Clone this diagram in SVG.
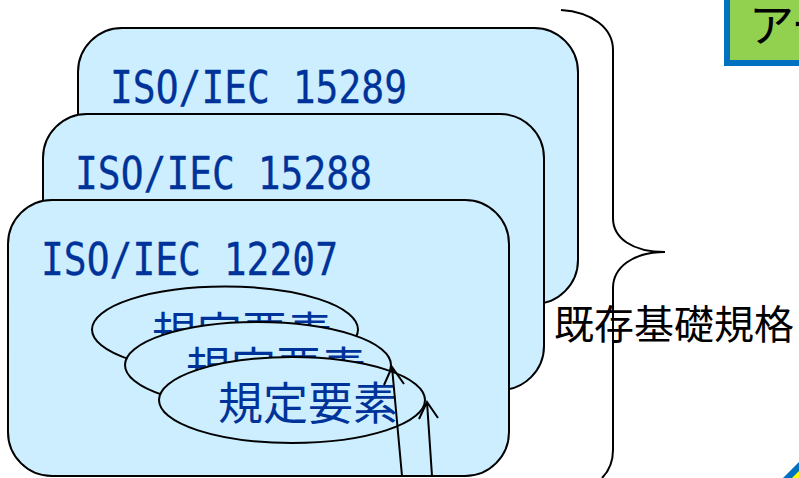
<svg xmlns="http://www.w3.org/2000/svg" width="799" height="478" viewBox="0 0 799 478">
<style>
.card{fill:#cceeff;stroke:#000;stroke-width:2}
.el{fill:#cceeff;stroke:#000;stroke-width:2}
.t{font-family:"DejaVu Sans Mono",monospace;font-size:44px;fill:#003399;stroke:#003399;stroke-width:.3}
.j{font-family:"Noto Sans CJK JP",sans-serif;font-size:45px;fill:#003399}
.k{font-family:"Noto Sans CJK JP",sans-serif;font-size:40px;fill:#000}
.l{fill:none;stroke:#000;stroke-width:2}
</style>
<g id="card-15289"><rect class="card" x="78" y="28" width="500" height="276" rx="44" ry="44"/><text class="t" x="110" y="103" textLength="297" lengthAdjust="spacingAndGlyphs">ISO/IEC 15289</text></g>
<g id="card-15288"><rect class="card" x="43" y="114" width="501" height="276" rx="44" ry="44"/><text class="t" x="75" y="189" textLength="297" lengthAdjust="spacingAndGlyphs">ISO/IEC 15288</text></g>
<g id="card-12207"><rect class="card" x="8" y="200" width="501" height="276" rx="44" ry="44"/><text class="t" x="41" y="275" textLength="297" lengthAdjust="spacingAndGlyphs">ISO/IEC 12207</text></g>
<g id="el-1"><ellipse class="el" cx="225" cy="329.500" rx="133" ry="43"/><text class="j" x="152" y="350">規定要素</text></g>
<g id="el-2"><ellipse class="el" cx="258" cy="365" rx="133" ry="43"/><text class="j" x="186" y="385">規定要素</text></g>
<g id="el-3"><ellipse class="el" cx="292" cy="400" rx="133" ry="43"/><text class="j" x="218" y="420">規定要素</text></g>
<g id="connectors">
<path class="l" d="M402 476 L392 367 M384 385 L392 367 L404 384"/>
<path class="l" d="M432 476 L427 402 M419 419 L427 402 L438 418"/>
</g>
<g id="brace"><path class="l" d="M561 10 C592 12 613 28 613 50 L613 218 C613 238 632 252 665 252 C632 252 613 268 613 288 L613 450 C613 462 608 472 602 478"/></g>
<g id="label-kison"><text class="k" x="554" y="339">既存基礎規格</text></g>
<g id="box-top"><rect x="727" y="-8" width="90" height="71" fill="#92d050" stroke="#0070c0" stroke-width="6"/><text x="749" y="42" font-family="'Noto Sans CJK JP',sans-serif" font-size="45" fill="#000">アー</text></g>
<g id="box-bottom"><path d="M783 478 L799 462 L799 478 Z" fill="#0070c0"/><path d="M792 478 L799 471 L799 478 Z" fill="#ffff00"/></g>
</svg>
